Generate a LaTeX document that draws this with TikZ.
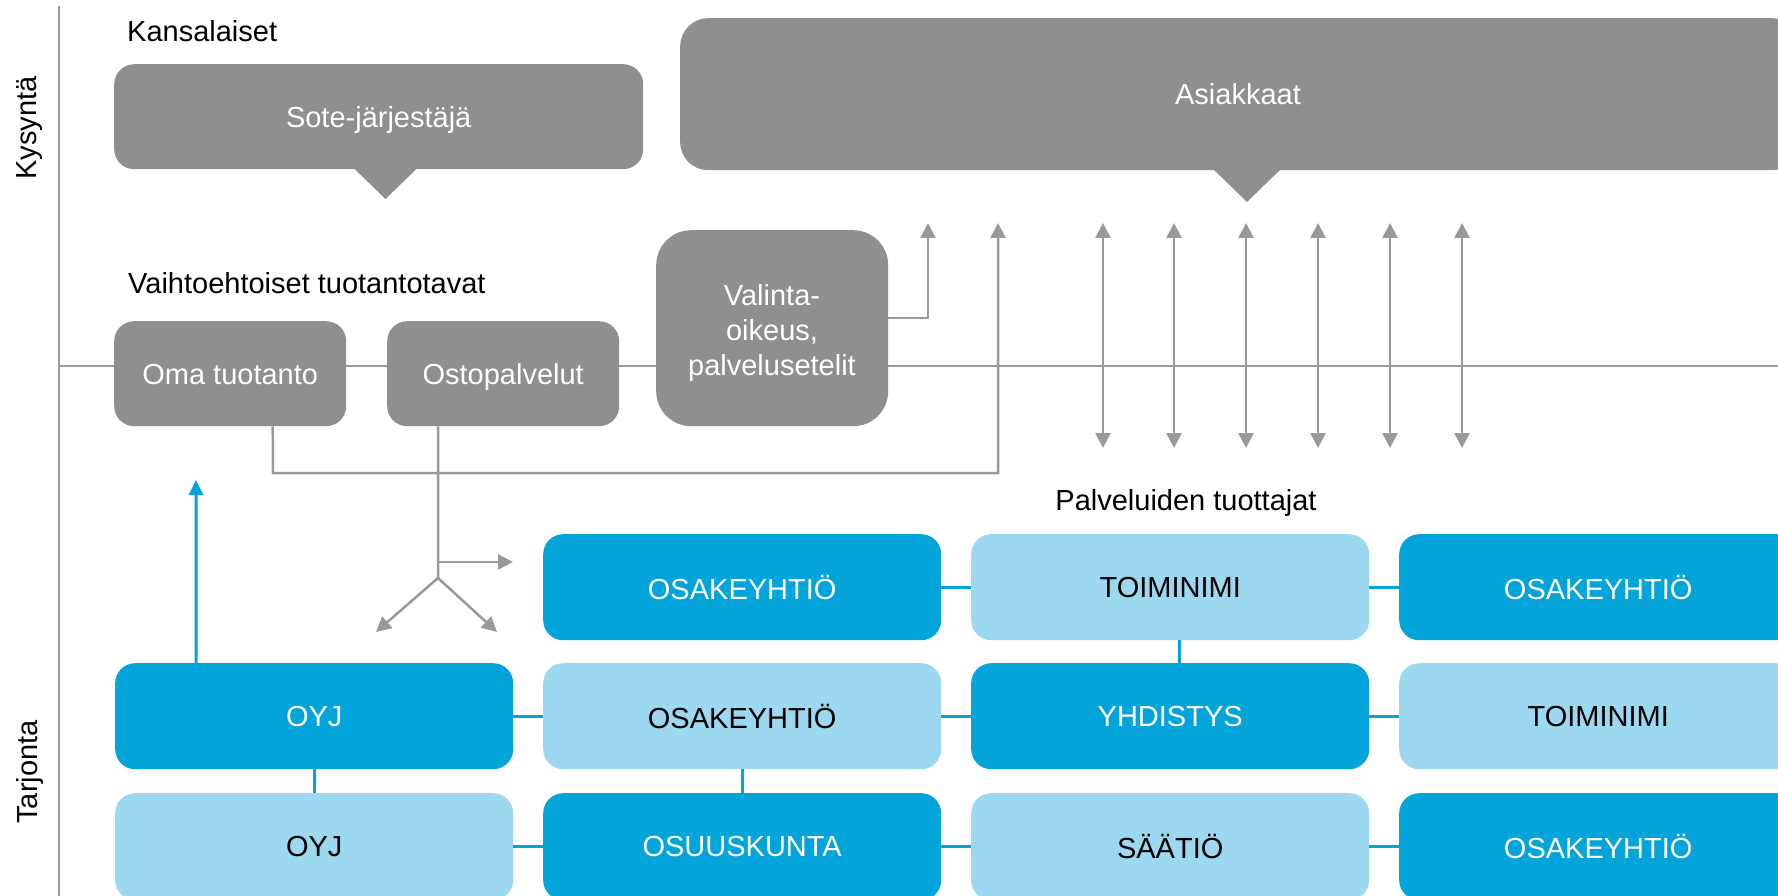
\documentclass[tikz,border=0pt]{standalone}
\usepackage{fontspec}
\setmainfont{Liberation Sans}
\usetikzlibrary{arrows.meta}
\definecolor{boxgrey}{RGB}{143,143,143}
\definecolor{linegrey}{RGB}{153,153,153}
\definecolor{darkblue}{RGB}{2,164,218}
\definecolor{lightblue}{RGB}{156,217,240}
\begin{document}
\begin{tikzpicture}[x=1pt,y=-1pt,
  lbl/.style={font=\fontsize{29}{35}\selectfont, inner sep=0pt},
  gbox/.style={fill=boxgrey, text=white, rounded corners=20pt, inner sep=0pt, anchor=north west, align=center, font=\fontsize{29}{35}\selectfont},
  capc/.style={text height=21pt, text depth=0pt},
  dbox/.style={fill=darkblue, text=white, rounded corners=20pt, inner sep=0pt, anchor=north west, minimum width=398pt, minimum height=106pt, font=\fontsize{29}{35}\selectfont},
  lbox/.style={fill=lightblue, text=black, rounded corners=20pt, inner sep=0pt, anchor=north west, minimum width=398pt, minimum height=106pt, font=\fontsize{29}{35}\selectfont},
  gline/.style={draw=linegrey, line width=2.5pt},
  garrow/.style={gline, -{Triangle[length=15pt,width=15pt]}},
  gdarrow/.style={gline, {Triangle[length=15pt,width=15pt]}-{Triangle[length=15pt,width=15pt]}},
  bline/.style={draw=darkblue, line width=3pt},
  barrow/.style={bline, -{Triangle[length=15pt,width=14pt]}}
]
\useasboundingbox (0,0) rectangle (1778,896);
\clip (0,0) rectangle (1778,896);

% axis
\coordinate (axtop) at (59,6);
\coordinate (axbot) at (59,896);
\draw[gline, line width=2pt] (axtop) -- (axbot);
\coordinate (hl) at (59,366);
\coordinate (hr) at (1778,366);
\draw[gline] (hl) -- (hr);

\node[lbl, rotate=90] (kys) at (30,128) {Kysyntä};
\node[lbl, rotate=90] (tar) at (30,772) {Tarjonta};

\node[lbl, anchor=west] (kans) at (127,31) {Kansalaiset};
\node[lbl, anchor=west] (vaiht) at (128,283) {Vaihtoehtoiset tuotantotavat};
\node[lbl] (palv) at (1186,503) {Palveluiden tuottajat};

% demand boxes
\node[gbox, capc, minimum width=529pt, minimum height=105pt] (sote) at (114,64) {Sote-järjestäjä};
\coordinate (sotetip) at (385.5,199);
\fill[boxgrey] (sotetip) -- ++(-33,-32) -- ++(66,0) -- cycle;

\node[gbox, rounded corners=28pt, minimum width=1120pt, minimum height=152pt] (asi) at (680,18) {};
\node[lbl, text=white] (asit) at (1238,94) {Asiakkaat};
\coordinate (asitip) at (1247,202);
\fill[boxgrey] (asitip) -- ++(-35,-34) -- ++(70,0) -- cycle;

% production modes
\node[gbox, capc, minimum width=232pt, minimum height=105pt] (oma) at (114,321) {Oma tuotanto};
\node[gbox, capc, minimum width=232pt, minimum height=105pt] (osto) at (387,321) {Ostopalvelut};
\node[gbox, rounded corners=35pt, minimum width=232pt, minimum height=196pt] (val) at (656,230) {};
\node[lbl, text=white, align=center] (valt) at (772,333) {Valinta-\\oikeus,\\palvelusetelit};

% arrows from valinta
\coordinate (v0) at (888,318);
\coordinate (v1) at (928,318);
\coordinate (v2) at (928,223);
\draw[garrow] (v0) -- (v1) -- (v2);

% line from oma tuotanto
\coordinate (o1) at (273,473);
\coordinate (o2) at (998,473);
\coordinate (o3) at (998,223);
\draw[garrow] ([xshift=42.5pt]oma.south) -- (o1) -- (o2) -- (o3);

% line from ostopalvelut with fork
\coordinate (fork) at (438,578);
\coordinate (fh) at (438,562);
\coordinate (fhe) at (513,562);
\coordinate (fl) at (376,632);
\coordinate (fr) at (497,632);
\draw[gline] ([xshift=-65pt]osto.south) -- (fork);
\draw[garrow] (fh) -- (fhe);
\draw[garrow] (fork) -- (fl);
\draw[garrow] (fork) -- (fr);

% double arrows
\foreach \i/\x in {1/1103,2/1174,3/1246,4/1318,5/1390,6/1462}{
  \coordinate (da\i) at (\x,223);
  \coordinate (db\i) at (\x,448);
  \draw[gdarrow] (da\i) -- (db\i);
}

% producer grid
\node[dbox] (r1c2) at (543,534) {OSAKEYHTIÖ};
\node[lbox] (r1c3) at (971,534) {TOIMINIMI};
\node[dbox] (r1c4) at (1399,534) {OSAKEYHTIÖ};

\node[dbox] (r2c1) at (115,663) {OYJ};
\node[lbox] (r2c2) at (543,663) {OSAKEYHTIÖ};
\node[dbox] (r2c3) at (971,663) {YHDISTYS};
\node[lbox] (r2c4) at (1399,663) {TOIMINIMI};

\node[lbox, minimum height=107pt] (r3c1) at (115,793) {OYJ};
\node[dbox, minimum height=107pt] (r3c2) at (543,793) {OSUUSKUNTA};
\node[lbox, minimum height=107pt] (r3c3) at (971,793) {SÄÄTIÖ};
\node[dbox, minimum height=107pt] (r3c4) at (1399,793) {OSAKEYHTIÖ};

\draw[bline] (r1c2.east) -- (r1c3.west);
\draw[bline] (r1c3.east) -- (r1c4.west);
\draw[bline] (r2c1.east) -- (r2c2.west);
\draw[bline] (r2c2.east) -- (r2c3.west);
\draw[bline] (r2c3.east) -- (r2c4.west);
\draw[bline] (r3c1.east) -- (r3c2.west);
\draw[bline] (r3c2.east) -- (r3c3.west);
\draw[bline] (r3c3.east) -- (r3c4.west);
\draw[bline] (r2c1.south) -- (r3c1.north);
\draw[bline] (r2c2.south) -- (r3c2.north);
\draw[bline] ([xshift=9pt]r1c3.south) -- ([xshift=9pt]r2c3.north);

\coordinate (bt) at (196,480);
\draw[barrow] ([xshift=-118pt]r2c1.north) -- (bt);
\end{tikzpicture}
\end{document}
